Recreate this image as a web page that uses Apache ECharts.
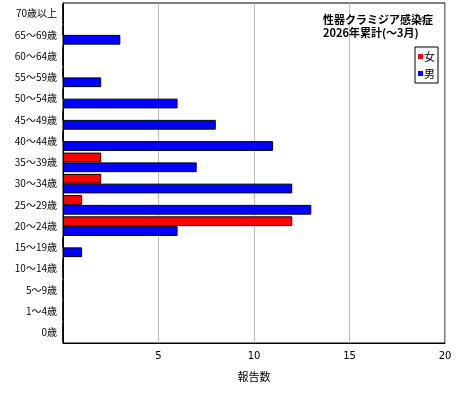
<!DOCTYPE html>
<html>
<head>
<meta charset="utf-8">
<script src="https://cdn.jsdelivr.net/npm/echarts@6/dist/echarts.min.js"></script>
<style>html,body{margin:0;padding:0;background:#fff}#main{width:460px;height:400px}</style>
</head>
<body>
<div id="main"></div>
<script>
var ages = ['0歳', '1～4歳', '5～9歳', '10～14歳', '15～19歳', '20～24歳', '25～29歳', '30～34歳',
	'35～39歳', '40～44歳', '45～49歳', '50～54歳', '55～59歳', '60～64歳', '65～69歳', '70歳以上'];
var male = [0, 0, 0, 0, 1, 6, 13, 12, 7, 11, 8, 6, 2, 0, 3, 0];
var female = [0, 0, 0, 0, 0, 12, 1, 2, 2, 0, 0, 0, 0, 0, 0, 0];

var myChart = echarts.init(document.getElementById('main'));
var font = 'Noto Sans CJK JP';
var option = {
	animation: false,
	textStyle: { fontFamily: font },
	title: {
		text: '性器クラミジア感染症\n2026年累計(～3月)',
		right: 22, top: 8,
		textStyle: { fontSize: 11, fontWeight: 'bold', color: '#000', lineHeight: 13, fontFamily: font, align: 'right' }
	},
	legend: {
		data: ['女', '男'],
		orient: 'vertical',
		right: 22, top: 47,
		itemWidth: 5, itemHeight: 5,
		itemGap: 6,
		padding: [4, 3, 4, 3],
		borderColor: '#000', borderWidth: 1,
		icon: 'rect',
		itemStyle: { borderWidth: 0 },
		textStyle: { fontSize: 11, color: '#000', padding: [0, 0, 0, -4] }
	},
	grid: { left: 63, right: 15, top: 3, bottom: 57, containLabel: false, show: true, borderColor: '#000', borderWidth: 1 },
	xAxis: {
		type: 'value', min: 0, max: 20, interval: 5,
		name: '報告数', nameLocation: 'middle', nameGap: 28,
		nameTextStyle: { fontSize: 11, color: '#000' },
		axisLine: { show: true, lineStyle: { color: '#000' } },
		axisTick: { show: false },
		axisLabel: { fontSize: 10, color: '#000', showMinLabel: false, fontFamily: 'DejaVu Sans' },
		splitLine: { lineStyle: { color: '#bbb' } }
	},
	yAxis: {
		type: 'category', data: ages,
		axisLine: { lineStyle: { color: '#000' } },
		axisTick: { show: false },
		axisLabel: { fontSize: 10, color: '#000', margin: 6, interval: 0 }
	},
	series: [
		{ name: '女', type: 'bar', data: female, barGap: '0%', barCategoryGap: '8%',
		  itemStyle: { color: '#ff0000', borderColor: '#000', borderWidth: 1 } },
		{ name: '男', type: 'bar', data: male,
		  itemStyle: { color: '#0000ff', borderColor: '#000', borderWidth: 1 } }
	]
};
myChart.setOption(option);
</script>
</body>
</html>
